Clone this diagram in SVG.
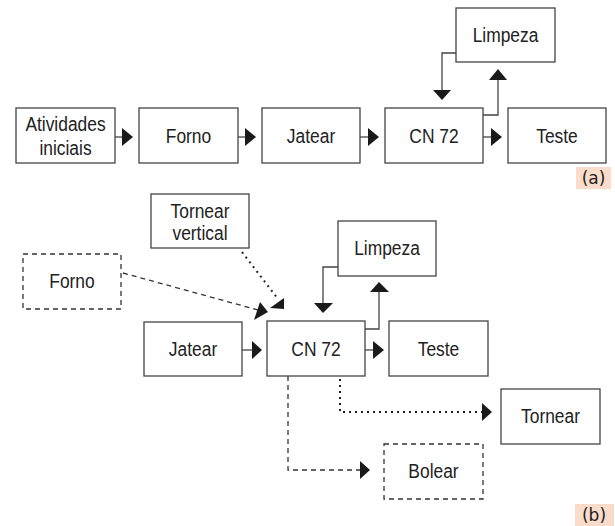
<svg xmlns="http://www.w3.org/2000/svg" width="615" height="526" viewBox="0 0 615 526">
  <style>
    .box { fill: #fff; stroke: #444; stroke-width: 1.3; }
    .dbox { fill: #fff; stroke: #333; stroke-width: 1.3; stroke-dasharray: 5 4; }
    .lbl { font-family: "Liberation Sans", Arial, sans-serif; font-size: 20px; fill: #222; text-anchor: middle; }
    .tag { font-family: "DejaVu Sans", "Liberation Sans", sans-serif; font-size: 17px; fill: #222; text-anchor: middle; }
    .ln { fill: none; stroke: #444; stroke-width: 1.3; }
    .dash { fill: none; stroke: #333; stroke-width: 1.3; stroke-dasharray: 5 4; }
    .dot { fill: none; stroke: #222; stroke-width: 2; stroke-dasharray: 2 4; }
    .head { fill: #1a1a1a; }
  </style>
  <defs>
    <!-- narrow label face: Liberation Sans squeezed horizontally -->
  </defs>
  <rect width="615" height="526" fill="#fff"/>

  <!-- (a) current route -->
  <g id="a-atividades">
    <rect class="box" x="16" y="108" width="99" height="55"/>
    <text class="lbl" transform="translate(65.5 131) scale(0.87 1)">Atividades</text>
    <text class="lbl" transform="translate(65.5 155) scale(0.87 1)">iniciais</text>
  </g>
  <g id="a-forno">
    <rect class="box" x="139" y="108" width="99" height="55"/>
    <text class="lbl" transform="translate(188.5 143) scale(0.87 1)">Forno</text>
  </g>
  <g id="a-jatear">
    <rect class="box" x="262" y="108" width="98" height="55"/>
    <text class="lbl" transform="translate(311 143) scale(0.87 1)">Jatear</text>
  </g>
  <g id="a-cn72">
    <rect class="box" x="385" y="108" width="98" height="55"/>
    <text class="lbl" transform="translate(434 143) scale(0.87 1)">CN 72</text>
  </g>
  <g id="a-teste">
    <rect class="box" x="508" y="108" width="98" height="55"/>
    <text class="lbl" transform="translate(557 143) scale(0.87 1)">Teste</text>
  </g>
  <g id="a-limpeza">
    <rect class="box" x="456" y="8" width="99" height="54"/>
    <text class="lbl" transform="translate(505.5 42) scale(0.87 1)">Limpeza</text>
  </g>
  <g id="a-tag">
    <rect x="576" y="167" width="35" height="22" fill="#fbdccb"/>
    <text class="tag" x="593.5" y="184">(a)</text>
  </g>

  <g id="a-connectors">
    <path class="ln" d="M115 137H123"/>
    <polygon class="head" points="122,128 133,137 122,146"/>
    <path class="ln" d="M238 137H246"/>
    <polygon class="head" points="245,128 256,137 245,146"/>
    <path class="ln" d="M360 137H369"/>
    <polygon class="head" points="368,128 379,137 368,146"/>
    <path class="ln" d="M483 137H492"/>
    <polygon class="head" points="491,128 502,137 491,146"/>
    <path class="ln" d="M456 53H442V91"/>
    <polygon class="head" points="433,90 451,90 442,100"/>
    <path class="ln" d="M483 115H498V79"/>
    <polygon class="head" points="489,80 507,80 498,69"/>
  </g>

  <!-- (b) proposed route -->
  <g id="b-tornear-vertical">
    <rect class="box" x="151" y="194" width="98" height="54"/>
    <text class="lbl" transform="translate(200 218) scale(0.87 1)">Tornear</text>
    <text class="lbl" transform="translate(200 240) scale(0.87 1)">vertical</text>
  </g>
  <g id="b-forno">
    <rect class="dbox" x="23" y="254" width="98" height="55"/>
    <text class="lbl" transform="translate(72 288) scale(0.87 1)">Forno</text>
  </g>
  <g id="b-limpeza">
    <rect class="box" x="338" y="221" width="98" height="55"/>
    <text class="lbl" transform="translate(387 255) scale(0.87 1)">Limpeza</text>
  </g>
  <g id="b-jatear">
    <rect class="box" x="144" y="322" width="98" height="54"/>
    <text class="lbl" transform="translate(193 356) scale(0.87 1)">Jatear</text>
  </g>
  <g id="b-cn72">
    <rect class="box" x="267" y="321" width="98" height="55"/>
    <text class="lbl" transform="translate(316 356) scale(0.87 1)">CN 72</text>
  </g>
  <g id="b-teste">
    <rect class="box" x="389" y="321" width="99" height="55"/>
    <text class="lbl" transform="translate(438.5 356) scale(0.87 1)">Teste</text>
  </g>
  <g id="b-tornear">
    <rect class="box" x="501" y="389" width="99" height="55"/>
    <text class="lbl" transform="translate(550.5 423) scale(0.87 1)">Tornear</text>
  </g>
  <g id="b-bolear">
    <rect class="dbox" x="384" y="444" width="99" height="55"/>
    <text class="lbl" transform="translate(433.5 478) scale(0.87 1)">Bolear</text>
  </g>
  <g id="b-tag">
    <rect x="575" y="504" width="39" height="22" fill="#fbdccb"/>
    <text class="tag" x="594" y="521">(b)</text>
  </g>

  <g id="b-connectors">
    <path class="ln" d="M242 350H253"/>
    <polygon class="head" points="252,341 262,350 252,359"/>
    <path class="ln" d="M365 350H374"/>
    <polygon class="head" points="373,341 384,350 373,359"/>
    <path class="ln" d="M338 267H323V304"/>
    <polygon class="head" points="314,303 333,303 323,313"/>
    <path class="ln" d="M365 329H379V291"/>
    <polygon class="head" points="370,292 389,292 379,282"/>
    <path class="dot" d="M340 379V412H482"/>
    <polygon class="head" points="482,403 492,412 482,421"/>
    <path class="dash" d="M288 376V470H360"/>
    <polygon class="head" points="360,461 370,470 360,479"/>
    <path class="dash" d="M123 273L258 310"/>
    <polygon class="head" points="260,302 268,312 254,320"/>
    <path class="dot" d="M242 252L278 299"/>
    <polygon class="head" points="284,298 284,309 270,308"/>
  </g>
</svg>
